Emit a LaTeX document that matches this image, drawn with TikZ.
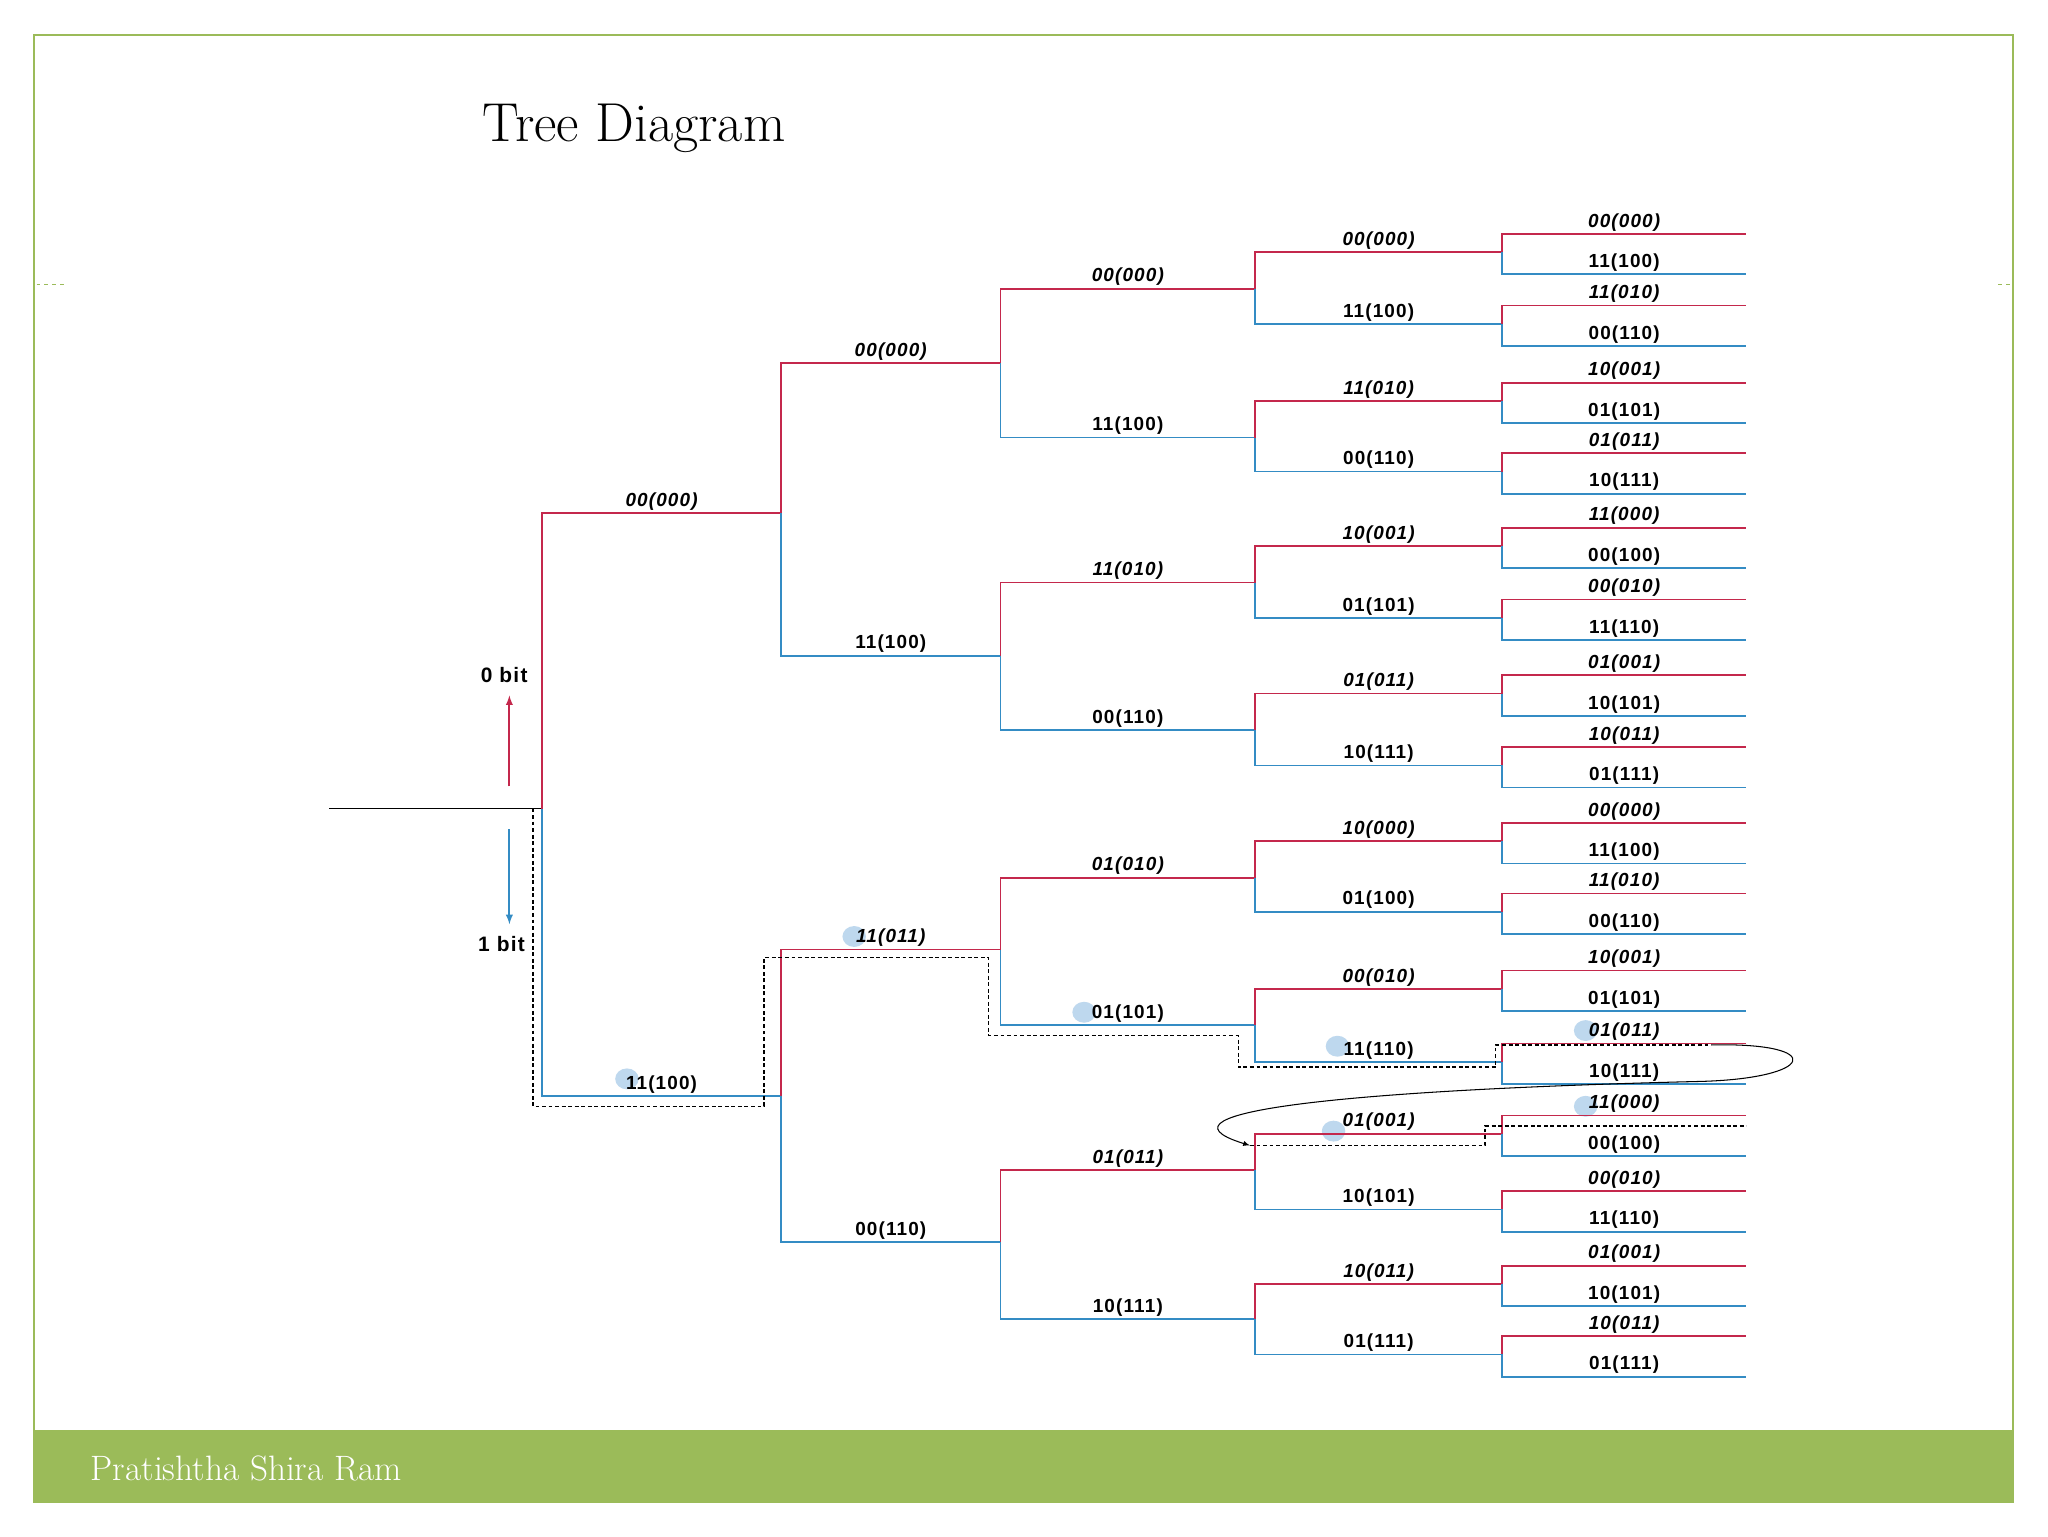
\documentclass[tikz,border=0pt]{standalone}
\usepackage{fontspec}
\setsansfont{Liberation Sans}
\newfontfamily\labfont[LetterSpace=6]{Liberation Sans}
\definecolor{rd}{RGB}{196,40,76}
\definecolor{bl}{RGB}{52,140,196}
\definecolor{gr}{RGB}{155,187,89}
\definecolor{hl}{RGB}{190,216,238}
\tikzset{
 up/.style={rd,line width=1.3pt},
 dn/.style={bl,line width=1.3pt},
 labup/.style={anchor=south,inner sep=1.5pt,text=black,font=\labfont\bfseries\itshape\fontsize{14.5}{14.5}\selectfont},
 labdn/.style={anchor=south,inner sep=1.5pt,text=black,font=\labfont\bfseries\fontsize{14.5}{14.5}\selectfont},
 dsh/.style={densely dashed,line width=1pt},
 hlt/.style={fill=hl,draw=none}
}
\begin{document}
\begin{tikzpicture}[x=1pt,y=-1pt]
\useasboundingbox (0,0) rectangle (1568,1176);
\fill[white] (0,0) rectangle (1568,1176);
\draw[gr,line width=1.5pt] (26,27) rectangle (1541,1150);
\fill[gr] (26,1095) rectangle (1541,1150);
\draw[gr,dashed,line width=1pt] (28,218) -- (50,218);
\draw[gr,dashed,line width=1pt] (1530,218) -- (1541,218);
\node[anchor=west,font=\fontsize{42}{42}\selectfont] (title) at (366,98) {Tree Diagram};
\node[anchor=west,text=white,font=\fontsize{27}{27}\selectfont] (foot) at (66,1124) {Pratishtha Shira Ram};
% highlights
\foreach \x/\y in {480/826,654/717,830/775,1024/801,1214/789,1214/847,1021/866}
  \fill[hlt] (\x,\y) ellipse (9 and 8);
% root
\coordinate (in) at (252,619);
\coordinate (r) at (415,619);
\draw[line width=1.3pt] (in) -- (r);
% level 1
\coordinate (a) at (598,393); \coordinate (b) at (598,839);
\draw[up] (r) |- (a) node[labup,pos=0.75] {00(000)};
\draw[dn] (r) |- (b) node[labdn,pos=0.75] {11(100)};
% level 2
\foreach \p/\n/\y/\s/\l in {a/aa/278/up/00(000), a/ab/502/dn/11(100), b/ba/727/up/11(011), b/bb/951/dn/00(110)}{
  \coordinate (\n) at (766,\y);
  \draw[\s] (\p) |- (\n) node[lab\s,pos=0.75] {\l};
}
% level 3
\foreach \p/\n/\y/\s/\l in {aa/aaa/221/up/00(000), aa/aab/335/dn/11(100), ab/aba/446/up/11(010), ab/abb/559/dn/00(110),
  ba/baa/672/up/01(010), ba/bab/785/dn/01(101), bb/bba/896/up/01(011), bb/bbb/1010/dn/10(111)}{
  \coordinate (\n) at (961,\y);
  \draw[\s] (\p) |- (\n) node[lab\s,pos=0.75] {\l};
}
% level 4
\foreach \p/\y/\s/\l in {aaa/193/up/00(000), aaa/248/dn/11(100), aab/307/up/11(010), aab/361/dn/00(110),
  aba/418/up/10(001), aba/473/dn/01(101), abb/531/up/01(011), abb/586/dn/10(111),
  baa/644/up/10(000), baa/698/dn/01(100), bab/757/up/00(010), bab/813/dn/11(110),
  bba/868/up/01(001), bba/926/dn/10(101), bbb/983/up/10(011), bbb/1037/dn/01(111)}{
  \coordinate (m\y) at (1150,\y);
  \draw[\s] (\p) |- (m\y) node[lab\s,pos=0.75] {\l};
}
% level 5
\foreach \y/\a/\b in {193/00(000)/11(100), 248/11(010)/00(110), 307/10(001)/01(101), 361/01(011)/10(111),
  418/11(000)/00(100), 473/00(010)/11(110), 531/01(001)/10(101), 586/10(011)/01(111),
  644/00(000)/11(100), 698/11(010)/00(110), 757/10(001)/01(101), 813/01(011)/10(111),
  868/11(000)/00(100), 926/00(010)/11(110), 983/01(001)/10(101), 1037/10(011)/01(111)}{
  \coordinate (u\y) at (1337,{\y-14});
  \coordinate (d\y) at (1337,{\y+17});
  \draw[up] (m\y) |- (u\y) node[labup,pos=0.75] {\a};
  \draw[dn] (m\y) |- (d\y) node[labdn,pos=0.75] {\b};
}
% bit arrows
\node[font=\labfont\bfseries\fontsize{16}{16}\selectfont] (zb) at (386,517) {0 bit};
\node[font=\labfont\bfseries\fontsize{16}{16}\selectfont] (ob) at (384,723) {1 bit};
\coordinate (zs) at (390,602); \coordinate (os) at (390,635);
\draw[rd,line width=1.5pt,-latex] (zs) -- ([yshift=-6pt]zb.south -| zs);
\draw[bl,line width=1.5pt,-latex] (os) -- ([yshift=6pt]ob.north -| os);
% dashed path
\coordinate (p0) at (408,619); \coordinate (p1) at (408,847); \coordinate (p2) at (585,847);
\coordinate (p3) at (585,733); \coordinate (p4) at (757,733); \coordinate (p5) at (757,793);
\coordinate (p6) at (948,793); \coordinate (p7) at (948,817); \coordinate (p8) at (1145,817);
\coordinate (p9) at (1145,800); \coordinate (p10) at (1310,800);
\draw[dsh] (p0) -- (p1) -- (p2) -- (p3) -- (p4) -- (p5) -- (p6) -- (p7) -- (p8) -- (p9) -- (p10);
\coordinate (q0) at (957,877); \coordinate (q1) at (1137,877); \coordinate (q2) at (1137,862); \coordinate (q3) at (1337,862);
\draw[dsh] (q0) -- (q1) -- (q2) -- (q3);
\draw[line width=0.8pt,-latex] (p10) .. controls (1400,798) and (1390,826) .. (1300,828)
  .. controls (1050,834) and (870,850) .. (q0);
\end{tikzpicture}
\end{document}
